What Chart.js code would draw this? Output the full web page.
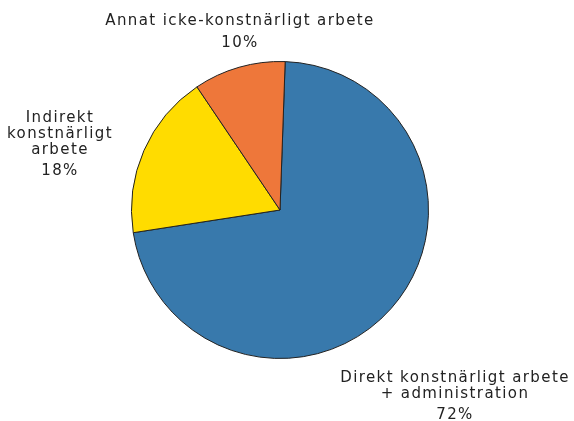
<!DOCTYPE html>
<html>
<head>
<meta charset="utf-8">
<script src="https://cdn.jsdelivr.net/npm/chart.js@4"></script>
<style>
  html, body { margin: 0; padding: 0; background: #fff; }
  #wrap { width: 574px; height: 421px; }
</style>
</head>
<body>
<div id="wrap"><canvas id="arbete"></canvas></div>
<script>
// Fördelning av arbetstid
var labels = ['Direkt konstnärligt arbete + administration', 'Indirekt konstnärligt arbete', 'Annat icke-konstnärligt arbete'];
var values = [72, 18, 10];
var colors = ['#3879ac', '#ffdc00', '#ee773a'];

// textrader för etiketterna (utanför cirkeln)
var labelLines = [
  ['Direkt konstnärligt arbete', '+ administration'],
  ['Indirekt', 'konstnärligt', 'arbete'],
  ['Annat icke-konstnärligt arbete']
];
// var etiketterna står (mitt på texten, första raden)
var labelPos = [
  {x: 455, y: 378, pctGap: 21},
  {x: 60, y: 118, pctGap: 21},
  {x: 240, y: 21, pctGap: 22}
];

const labelPlugin = {
  id: 'pieLabels',
  afterDraw(chart) {
    const ctx = chart.ctx;
    ctx.save();
    ctx.font = '15px "DejaVu Sans"';
    ctx.letterSpacing = '1.4px';
    ctx.fillStyle = '#222';
    ctx.textAlign = 'center';
    ctx.textBaseline = 'middle';
    labelLines.forEach(function(lines, i) {
      var p = labelPos[i];
      var y = p.y;
      lines.forEach(function(l, j) {
        ctx.fillText(l, p.x, y);
        y += 16;
      });
      ctx.fillText(values[i] + '%', p.x, y - 16 + p.pctGap);
    });
    ctx.restore();
  }
};

const config_arbete = {
  type: 'pie',
  data: {
    labels: labels,
    datasets: [{
      data: values,
      backgroundColor: colors,
      borderColor: '#222',
      borderWidth: 1,
      hoverOffset: 0
    }]
  },
  options: {
    responsive: false,
    animation: false,
    rotation: 2,
    layout: {padding: {left: 131, right: 145, top: 61, bottom: 62}},
    plugins: {legend: {display: false}, tooltip: {enabled: false}}
  },
  plugins: [labelPlugin]
};

const canvas = document.getElementById('arbete');
canvas.width = 574;
canvas.height = 421;
const arbete_Chart = new Chart(canvas, config_arbete);
</script>
</body>
</html>
